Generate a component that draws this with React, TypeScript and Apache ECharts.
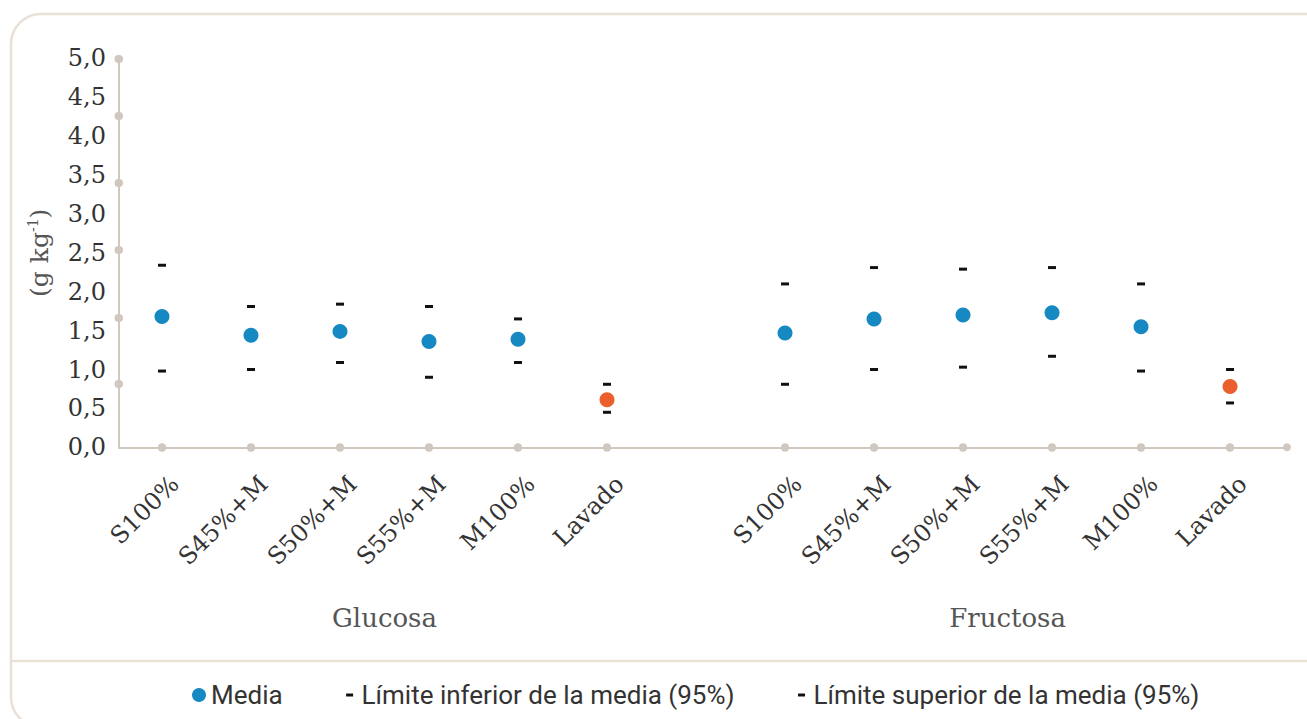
import React, { useEffect, useRef } from "react";
import * as echarts from "echarts";

const categories = ["S100%", "S45%+M", "S50%+M", "S55%+M", "M100%", "Lavado"];
const groups = ["Glucosa", "Fructosa"];

const glucosaMean = [1.68, 1.44, 1.49, 1.36, 1.39, 0.61];
const glucosaLower = [0.98, 1.0, 1.09, 0.9, 1.09, 0.45];
const glucosaUpper = [2.34, 1.81, 1.84, 1.81, 1.65, 0.81];

const fructosaMean = [1.47, 1.65, 1.7, 1.73, 1.55, 0.78];
const fructosaLower = [0.81, 1.0, 1.03, 1.17, 0.98, 0.57];
const fructosaUpper = [2.1, 2.31, 2.29, 2.31, 2.1, 1.0];

const yTickDots = [0.814, 1.671, 2.536, 3.401, 4.262, 5.0];

const seriesNames = ["Media", "Límite inferior de la media (95%)", "Límite superior de la media (95%)"];

const BLUE = "#1689c2";
const ORANGE = "#ea5f2c";
const AXIS = "#d0c8bf";
const BORDER = "#e9e1d6";
const SLAB = "'DejaVu Serif', serif";

export default function App() {
  const ref = useRef<HTMLDivElement>(null);
  useEffect(() => {
    if (!ref.current) return;
    const chart = echarts.init(ref.current, undefined, { renderer: "svg" });

    const groupGap = categories.length + 1;
    const xPos: number[] = [];
    const xName: Record<string, string> = {};
    const meanData: any[] = [];
    const lowData: any[] = [];
    const upData: any[] = [];
    const groupData = [
      [glucosaMean, glucosaLower, glucosaUpper],
      [fructosaMean, fructosaLower, fructosaUpper],
    ];
    groupData.forEach((g, gi) => {
      categories.forEach((c, i) => {
        const x = gi * groupGap + i;
        xPos.push(x);
        xName[String(x)] = c;
        const isLavado = c === "Lavado";
        meanData.push({ value: [x, g[0][i]], itemStyle: { color: isLavado ? ORANGE : BLUE } });
        lowData.push([x, g[1][i]]);
        upData.push([x, g[2][i]]);
      });
    });
    const groupCenters = groups.map((_, gi) => gi * groupGap + (categories.length - 1) / 2);

    const dashIcon = "path://M0,0 M14,14 M3.5,5.5 h7 v3 h-7 z";

    chart.setOption({
      animation: false,
      grid: { left: 119, right: 20, top: 58.3, bottom: 271.7, containLabel: false },
      legend: {
        left: 187,
        top: 677,
        itemWidth: 14,
        itemHeight: 14,
        itemGap: 60,
        textStyle: { fontFamily: "Roboto", fontSize: 26, color: "#333" },
        data: [
          { name: seriesNames[0], icon: "circle", itemStyle: { color: BLUE } },
          { name: seriesNames[1], icon: dashIcon, itemStyle: { color: "#111" } },
          { name: seriesNames[2], icon: dashIcon, itemStyle: { color: "#111" } },
        ],
      },
      graphic: [
        {
          type: "rect",
          shape: { x: 11, y: 14, width: 1340, height: 713, r: 30 },
          style: { fill: "none", stroke: BORDER, lineWidth: 2.5 },
          silent: true,
          z: -10,
        },
        {
          type: "line",
          shape: { x1: 11, y1: 661, x2: 1307, y2: 661 },
          style: { stroke: BORDER, lineWidth: 2.5 },
          silent: true,
          z: -10,
        },
      ],
      xAxis: [
        {
          type: "value",
          min: -0.483,
          max: 12.64,
          splitLine: { show: false },
          axisLine: {
            show: true,
            onZero: false,
            lineStyle: { color: AXIS, width: 2 },
            symbol: ["none", "circle"],
            symbolSize: [8, 8],
          },
          axisTick: {
            show: true,
            customValues: xPos,
            length: 0.5,
            lineStyle: { color: AXIS, width: 8, cap: "round" },
          },
          axisLabel: {
            customValues: xPos,
            rotate: 45,
            margin: 20,
            verticalAlign: "top",
            padding: [6, 0, 0, 0],
            fontFamily: SLAB,
            fontSize: 24,
            color: "#333",
            formatter: (v: number) => xName[String(Math.round(v))] ?? "",
          },
        },
        {
          type: "value",
          min: -0.483,
          max: 12.64,
          position: "bottom",
          offset: 150,
          splitLine: { show: false },
          axisLine: { show: false, onZero: false },
          axisTick: { show: false },
          axisLabel: {
            customValues: groupCenters,
            fontFamily: SLAB,
            fontSize: 26,
            color: "#555",
            formatter: (v: number) => {
              const gi = groupCenters.findIndex((c) => Math.abs(c - v) < 0.01);
              return gi >= 0 ? groups[gi] : "";
            },
          },
        },
      ],
      yAxis: {
        type: "value",
        min: 0,
        max: 5,
        interval: 0.5,
        name: "(g kg{sup|-1})",
        nameLocation: "middle",
        nameGap: 66,
        nameTextStyle: {
          fontFamily: SLAB,
          fontSize: 25,
          color: "#555",
          rich: { sup: { fontFamily: SLAB, fontSize: 14, color: "#555", padding: [0, 0, 13, 0] } },
        },
        splitLine: { show: false },
        axisLine: { show: true, onZero: false, lineStyle: { color: AXIS, width: 2 } },
        axisTick: {
          show: true,
          customValues: yTickDots,
          length: 0.5,
          lineStyle: { color: AXIS, width: 8, cap: "round" },
        },
        axisLabel: {
          margin: 13,
          fontFamily: SLAB,
          fontSize: 24,
          color: "#333",
          formatter: (v: number) => v.toFixed(1).replace(".", ","),
        },
      },
      series: [
        {
          name: seriesNames[0],
          type: "scatter",
          symbol: "circle",
          symbolSize: 15,
          itemStyle: { color: BLUE, opacity: 1 },
          data: meanData,
          z: 3,
        },
        {
          name: seriesNames[1],
          type: "scatter",
          symbol: "rect",
          symbolSize: [8, 3],
          itemStyle: { color: "#111", opacity: 1 },
          data: lowData,
        },
        {
          name: seriesNames[2],
          type: "scatter",
          symbol: "rect",
          symbolSize: [8, 3],
          itemStyle: { color: "#111", opacity: 1 },
          data: upData,
        },
      ],
    });
    return () => chart.dispose();
  }, []);
  return (
    <div
      ref={ref}
      style={{ position: "fixed", left: 0, top: 0, width: 1307, height: 719, background: "#fff" }}
    />
  );
}
